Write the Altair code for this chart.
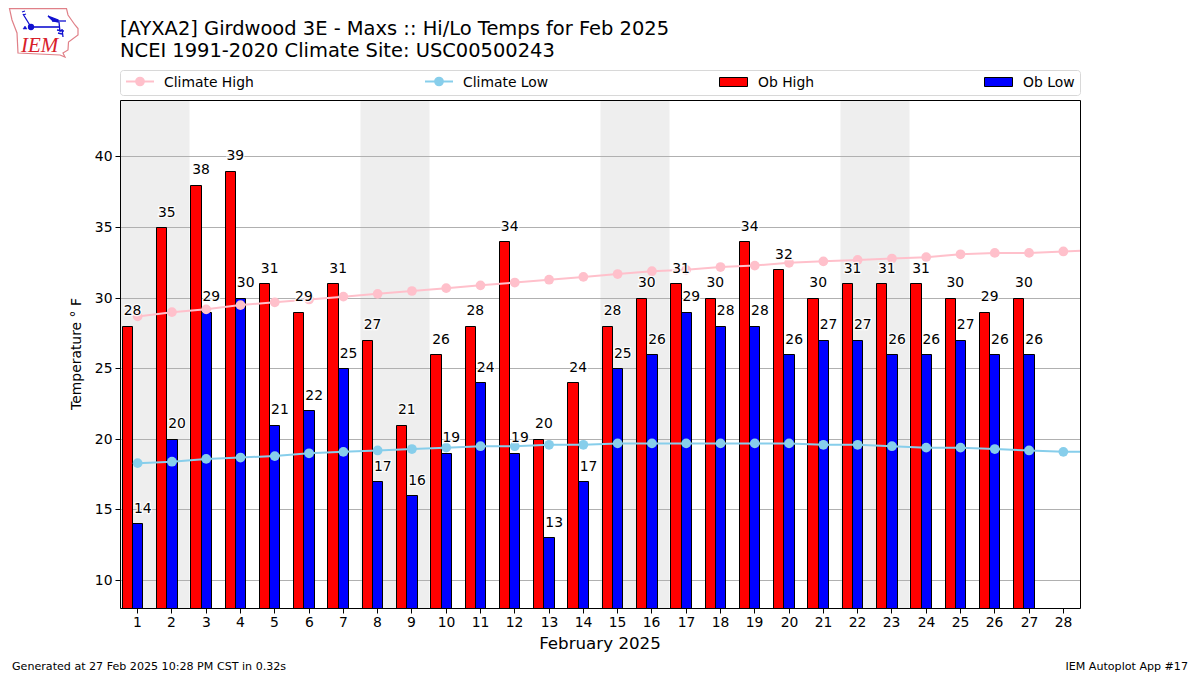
import urllib.parse
import altair as alt
import pandas as pd

days = list(range(1, 28))
climate_days = list(range(1, 30))
tick_days = list(range(1, 29))
ob_high = [28,35,38,39,31,29,31,27,21,26,28,34,20,24,28,30,31,30,34,32,30,31,31,31,30,29,30]
ob_low = [14,20,29,30,21,22,25,17,16,19,24,19,13,17,25,26,29,28,28,26,27,27,26,26,27,26,26]
climate_high = [28.7,29.0,29.2,29.5,29.7,29.9,30.1,30.3,30.5,30.7,30.9,31.1,31.3,31.5,31.7,31.9,32.0,32.2,32.3,32.5,32.6,32.7,32.8,32.9,33.1,33.2,33.2,33.3,33.4]
climate_low = [18.3,18.4,18.6,18.7,18.8,19.0,19.1,19.2,19.3,19.4,19.5,19.5,19.6,19.6,19.7,19.7,19.7,19.7,19.7,19.7,19.6,19.6,19.5,19.4,19.4,19.3,19.2,19.1,19.1]
band_start = [0.5, 7.5, 14.5, 21.5]
band_end = [2.5, 9.5, 16.5, 23.5]
grid_values = [10, 15, 20, 25, 30, 35, 40]

W, H = 960, 508
OX, OY = 120.5, 100.5
FONT = "DejaVu Sans"
XD, YD = [0.5, 28.5], [8, 44]
X = alt.Scale(domain=XD, nice=False, zero=False)
Y = alt.Scale(domain=YD, nice=False, zero=False)
XR = alt.Scale(domain=XD, nice=False, zero=False, round=True)
YR = alt.Scale(domain=YD, nice=False, zero=False, round=True)
ONE = alt.Data(values=[{"a": 1}])

bars_df = pd.DataFrame({"day": days, "high": ob_high, "low": ob_low, "base": [8] * 27})
clim_df = pd.DataFrame({"day": climate_days, "chigh": climate_high, "clow": climate_low})
band_df = pd.DataFrame({"s": band_start, "e": band_end})
grid_df = pd.DataFrame({"v": grid_values})


def page_text(text, px, py, size, align="left", color="black", angle=0, font=FONT, style="normal"):
    return alt.Chart(ONE).mark_text(
        text=text, fontSize=size, align=align, baseline="alphabetic", color=color,
        angle=angle, font=font, fontStyle=style,
    ).encode(x=alt.value(px - OX), y=alt.value(py - OY))


def page_rule(x1, x2, y, color, width=2):
    return alt.Chart(ONE).mark_rule(color=color, strokeWidth=width).encode(
        x=alt.value(x1 - OX), x2=alt.value(x2 - OX), y=alt.value(y - OY))


def page_dot(x, y, color):
    return alt.Chart(ONE).mark_point(filled=True, color=color, opacity=1, size=95).encode(
        x=alt.value(x - OX), y=alt.value(y - OY))


def page_box(x1, x2, y1, y2, fill, stroke, radius=0, width=1):
    return alt.Chart(ONE).mark_rect(fill=fill, stroke=stroke, strokeWidth=width, cornerRadius=radius,
                                    strokeJoin="miter").encode(
        x=alt.value(x1 - OX), x2=alt.value(x2 - OX), y=alt.value(y1 - OY), y2=alt.value(y2 - OY))


bands = alt.Chart(band_df).mark_rect(fill="#eeeeee").encode(
    x=alt.X("s:Q", scale=XR, title=None,
            axis=alt.Axis(values=tick_days, format="d", labelFontSize=13.9, labelColor="black", tickColor="black",
                          tickSize=5, labelPadding=2, domain=False, grid=False, labelFont=FONT,
                          labelOverlap=False, translate=0)),
    x2="e:Q",
    y=alt.value(0), y2=alt.value(H),
)
grid = alt.Chart(grid_df).mark_rule(color="#b0b0b0", strokeWidth=1).encode(
    y=alt.Y("v:Q", scale=YR, title=None,
            axis=alt.Axis(values=grid_values, format="d", labelFontSize=13.9, labelColor="black", tickColor="black",
                          tickSize=5, labelPadding=3, domain=False, grid=False, labelFont=FONT,
                          labelOverlap=False, translate=0)),
)

high_bars = alt.Chart(bars_df).transform_calculate(l="datum.day-0.45", r="datum.day-0.15").mark_rect(
    fill="#ff0000", stroke="black", strokeWidth=1, strokeJoin="miter").encode(
    x=alt.X("l:Q", scale=XR, axis=None), x2="r:Q", y=alt.Y("high:Q", scale=YR, axis=None), y2="base:Q")
low_bars = alt.Chart(bars_df).transform_calculate(l="datum.day-0.15", r="datum.day+0.15").mark_rect(
    fill="#0000ff", stroke="black", strokeWidth=1, strokeJoin="miter").encode(
    x=alt.X("l:Q", scale=XR, axis=None), x2="r:Q", y=alt.Y("low:Q", scale=YR, axis=None), y2="base:Q")

c_layers = []
for field, col in (("chigh", "#ffc0cb"), ("clow", "#87ceeb")):
    c_layers.append(alt.Chart(clim_df).mark_line(color=col, strokeWidth=2, clip=True).encode(
        x=alt.X("day:Q", scale=X, axis=None), y=alt.Y(f"{field}:Q", scale=Y, axis=None)))
    c_layers.append(alt.Chart(clim_df).mark_point(filled=True, color=col, opacity=1, size=95, clip=True).encode(
        x=alt.X("day:Q", scale=X, axis=None), y=alt.Y(f"{field}:Q", scale=Y, axis=None)))

lab_layers = []
for field, expr in (("high", "datum.day-0.15"), ("low", "datum.day+0.15")):
    base = alt.Chart(bars_df).transform_calculate(p=expr)
    enc = dict(x=alt.X("p:Q", scale=X, axis=None), y=alt.Y(f"{field}:Q", scale=Y, axis=None),
               text=alt.Text(f"{field}:Q", format="d"))
    lab_layers.append(base.mark_text(fontSize=13.9, dy=-11, baseline="alphabetic", font=FONT, color="white",
                                     stroke="white", strokeWidth=2.5, strokeOpacity=0.9).encode(**enc))
    lab_layers.append(base.mark_text(fontSize=13.9, dy=-11, baseline="alphabetic", font=FONT, color="black").encode(**enc))

frame = alt.Chart(ONE).mark_rect(fill=None, stroke="black", strokeWidth=1, strokeJoin="miter").encode(
    x=alt.value(0), x2=alt.value(W), y=alt.value(0), y2=alt.value(H))

logo_svg = (
    "<svg xmlns='http://www.w3.org/2000/svg' width='80' height='60' viewBox='0 0 80 60'>"
    "<path d='M9.5 8.6 L66.5 8.6 L68 15 L75 25 L78 28.5 L78 35 L68.5 42 L68 50 L63 53 L65 57 L60 55 L18 53 L17 33 L12 20 Z' "
    "fill='none' stroke='#e08088' stroke-width='1.2'/>"
    "<g stroke='#1010d0' fill='#1010d0' stroke-width='1.3'>"
    "<path d='M31 27 L60 27' stroke-width='1.6'/>"
    "<path d='M31 27 L23 14 M22 12 L25 11 M23 15 L26 14' fill='none'/>"
    "<circle cx='31' cy='27' r='2.5'/>"
    "<path d='M48 16 L58 20 L58 22 L53 21 Z'/>"
    "<path d='M52 21 L66 21' />"
    "<path d='M59 22 L60 32 M63 37 L62 29 M57 30 L64 31 M58 33 L62 34' fill='none'/>"
    "<path d='M23 29 L25 26 L27 29 Z' stroke-width='0.5'/>"
    "</g></svg>"
)
logo = alt.Chart(ONE).mark_image(
    url="data:image/svg+xml," + urllib.parse.quote(logo_svg), width=80, height=60, align="left", baseline="top"
).encode(x=alt.value(0 - OX), y=alt.value(0 - OY))

chrome = [
    logo,
    page_text("IEM", 21, 52, 21, color="#d8202a", font="Liberation Serif", style="italic"),
    page_text("[AYXA2] Girdwood 3E - Maxs :: Hi/Lo Temps for Feb 2025", 120, 35, 19.47),
    page_text("NCEI 1991-2020 Climate Site: USC00500243", 120, 57, 19.47),
    page_box(120.5, 1080.5, 70.5, 95.5, "white", "#d8d8d8", radius=3),
    page_rule(126, 154, 81.5, "#ffc0cb"),
    page_dot(140, 81.5, "#ffc0cb"),
    page_text("Climate High", 164, 86.5, 13.9),
    page_rule(425, 453, 81.5, "#87ceeb"),
    page_dot(439, 81.5, "#87ceeb"),
    page_text("Climate Low", 463, 86.5, 13.9),
    page_box(719.5, 747.5, 77.5, 86.5, "#ff0000", "black"),
    page_text("Ob High", 758, 86.5, 13.9),
    page_box(984.5, 1012.5, 77.5, 86.5, "#0000ff", "black"),
    page_text("Ob Low", 1023, 86.5, 13.9),
    page_text("February 2025", 600, 649, 16.7, align="center"),
    page_text("Temperature ° F", 81, 354, 13.9, align="center", angle=270),
    page_text("Generated at 27 Feb 2025 10:28 PM CST in 0.32s", 12, 670, 11.1),
    page_text("IEM Autoplot App #17", 1188, 670, 11.1, align="right"),
]

chart = alt.layer(
    bands, grid, high_bars, low_bars, *c_layers, *lab_layers, frame, *chrome
).resolve_scale(x="independent", y="independent").properties(
    width=W, height=H,
    autosize=alt.AutoSizeParams(type="none"),
    padding={"left": 112.5, "top": 92.5, "right": 111.5, "bottom": 63.5},
    background="white",
).configure_view(stroke=None).configure_axis(tickWidth=1)

chart.save("out.html", embed_options={"renderer": "svg", "actions": False})
